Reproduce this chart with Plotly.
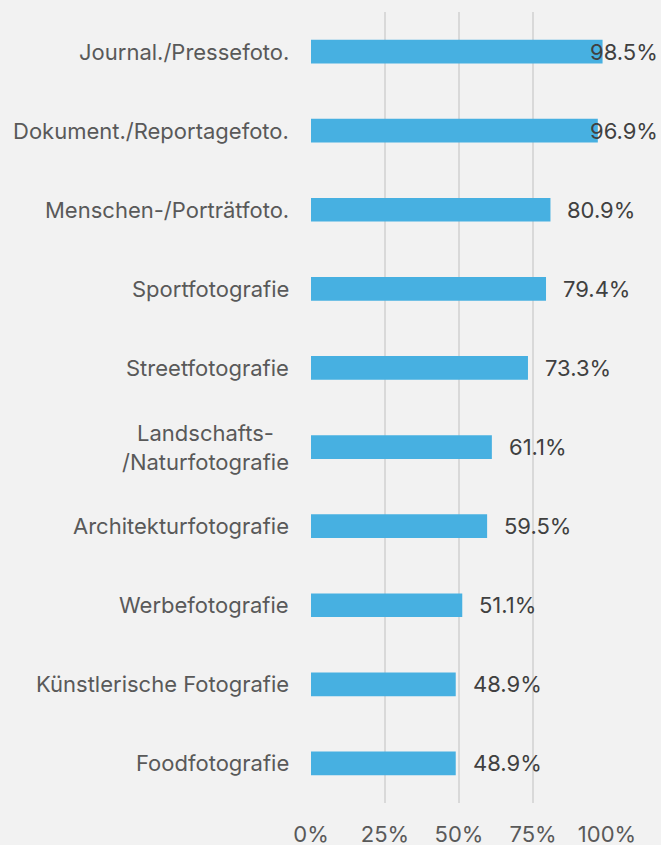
import plotly.graph_objects as go

categories = [
    "Journal./Pressefoto.",
    "Dokument./Reportagefoto.",
    "Menschen-/Porträtfoto.",
    "Sportfotografie",
    "Streetfotografie",
    "Landschafts-<br>/Naturfotografie",
    "Architekturfotografie",
    "Werbefotografie",
    "Künstlerische Fotografie",
    "Foodfotografie",
]
values = [0.985, 0.969, 0.809, 0.794, 0.733, 0.611, 0.595, 0.511, 0.489, 0.489]
value_labels = ["98.5%", "96.9%", "80.9%", "79.4%", "73.3%", "61.1%", "59.5%", "51.1%", "48.9%", "48.9%"]
tick_vals = [0, 0.25, 0.5, 0.75, 1.0]
tick_text = ["0%", "25%", "50%", "75%", "100%"]

W, H = 661, 845
ML, MR, MT, MB = 311, 54, 12, 42
plot_w = W - ML - MR
FONT = "Inter"
FS = 22

fig = go.Figure()
fig.add_trace(go.Bar(
    x=values, y=categories, orientation="h",
    marker=dict(color="#47B0E1", line=dict(width=0)),
    width=0.3, hoverinfo="skip",
))

annotations = []
for cat, v, lab in zip(categories, values, value_labels):
    bar_px = ML + v * plot_w
    if bar_px + 15 + 66 > W - 2:
        annotations.append(dict(x=v, y=cat, xref="x", yref="y", text=lab,
                                showarrow=False, xanchor="right",
                                xshift=(W - 1) - bar_px,
                                font=dict(family=FONT, size=FS, color="#404040")))
    else:
        annotations.append(dict(x=v, y=cat, xref="x", yref="y", text=lab,
                                showarrow=False, xanchor="left", xshift=15,
                                font=dict(family=FONT, size=FS, color="#404040")))
    annotations.append(dict(x=0, y=cat, xref="paper", yref="y", text=cat,
                            showarrow=False, xanchor="right", xshift=-20,
                            align="center",
                            font=dict(family=FONT, size=FS, color="#595959")))

fig.update_layout(
    width=W, height=H,
    margin=dict(l=ML, r=MR, t=MT, b=MB, autoexpand=False),
    paper_bgcolor="#F2F2F2", plot_bgcolor="#F2F2F2",
    showlegend=False,
    annotations=annotations,
    xaxis=dict(range=[0, 1], tickvals=tick_vals, ticktext=tick_text,
               showgrid=True, gridcolor="#D9D9D9", gridwidth=1.5,
               zeroline=False, showline=False, ticks="",
               ticklabelstandoff=16, automargin=False,
               tickfont=dict(family=FONT, size=FS, color="#595959"),
               fixedrange=True),
    yaxis=dict(categoryorder="array", categoryarray=categories,
               autorange="reversed", showticklabels=False,
               showgrid=False, zeroline=False, showline=False, ticks="",
               fixedrange=True),
    font=dict(family=FONT),
)

fig.write_html("out.html", config={"displayModeBar": False},
               post_script="document.body.style.margin='0';document.body.style.padding='0';")
